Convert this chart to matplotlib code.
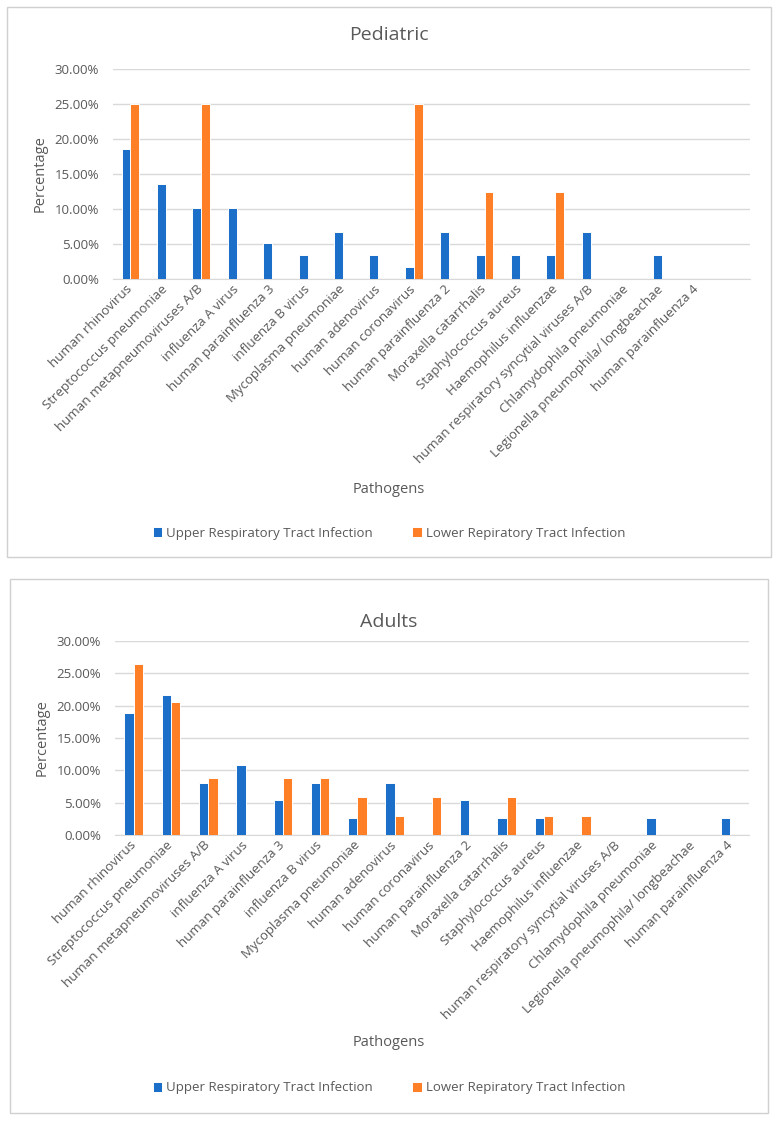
import matplotlib.pyplot as plt
import numpy as np
from matplotlib.patches import Rectangle
from matplotlib.ticker import PercentFormatter

plt.rcParams['font.family'] = ['Open Sans', 'DejaVu Sans']

pathogens = ['human rhinovirus', 'Streptococcus pneumoniae', 'human metapneumoviruses A/B',
             'influenza A virus', 'human parainfluenza 3', 'influenza B virus',
             'Mycoplasma pneumoniae', 'human adenovirus', 'human coronavirus',
             'human parainfluenza 2', 'Moraxella catarrhalis', 'Staphylococcus aureus',
             'Haemophilus influenzae', 'human respiratory syncytial viruses A/B',
             'Chlamydophila pneumoniae', 'Legionella pneumophila/ longbeachae',
             'human parainfluenza 4']

ped_upper = [18.64, 13.56, 10.17, 10.17, 5.08, 3.39, 6.78, 3.39, 1.69, 6.78, 3.39, 3.39, 3.39, 6.78, 0, 3.39, 0]
ped_lower = [25.0, 0, 25.0, 0, 0, 0, 0, 0, 25.0, 0, 12.5, 0, 12.5, 0, 0, 0, 0]
adult_upper = [18.92, 21.62, 8.11, 10.81, 5.41, 8.11, 2.70, 8.11, 0, 5.41, 2.70, 2.70, 0, 0, 2.70, 0, 2.70]
adult_lower = [26.47, 20.59, 8.82, 0, 8.82, 8.82, 5.88, 2.94, 5.88, 0, 5.88, 2.94, 2.94, 0, 0, 0, 0]

blue = '#1B6FC8'
orange = '#FF7F27'
grey = '#595959'

W, H = 781, 1124
fig = plt.figure(figsize=(W / 100, H / 100), dpi=100)


def px(x0, y0, x1, y1):
    # pixel box (top-left origin) -> figure fraction rect
    return [x0 / W, 1 - y1 / H, (x1 - x0) / W, (y1 - y0) / H]


def panel(box, plot, ncat, title, title_y, ylab_x, xlab_y, leg_y, upper, lower):
    r = px(*box)
    fig.patches.append(Rectangle((r[0], r[1]), r[2], r[3], transform=fig.transFigure,
                                 fill=False, edgecolor='#D0D0D0', linewidth=1))
    ax = fig.add_axes(px(*plot))
    x = np.arange(len(pathogens))
    w = 0.25
    ax.bar(x - w / 2, upper, w, color=blue, edgecolor='white', linewidth=0.7,
           label='Upper Respiratory Tract Infection', zorder=3)
    ax.bar(x + w / 2, lower, w, color=orange, edgecolor='white', linewidth=0.7,
           label='Lower Repiratory Tract Infection', zorder=3)
    ax.set_xlim(-0.5, ncat - 0.5)
    ax.set_ylim(0, 30)
    ax.set_yticks(np.arange(0, 31, 5))
    ax.yaxis.set_major_formatter(PercentFormatter(decimals=2))
    ax.grid(axis='y', color='#D9D9D9', linewidth=1, zorder=0)
    for s in ['top', 'right', 'left']:
        ax.spines[s].set_visible(False)
    ax.spines['bottom'].set_color('#D9D9D9')
    ax.tick_params(length=0, colors=grey, labelsize=9.5)
    ax.tick_params(axis='y', pad=10)
    ax.tick_params(axis='x', pad=6)
    ax.set_xticks(x)
    ax.set_xticklabels(pathogens, rotation=45, ha='right', va='center', rotation_mode='anchor')
    cx = (box[0] + box[2]) / 2
    fig.text(ylab_x / W, 1 - (plot[1] + plot[3]) / 2 / H, 'Percentage', rotation=90,
             ha='center', va='center', fontsize=10.5, color=grey)
    fig.text(cx / W, 1 - title_y / H, title, ha='center', va='center', fontsize=14, color=grey)
    fig.text(cx / W, 1 - xlab_y / H, 'Pathogens', ha='center', va='center',
             fontsize=10.5, color=grey)
    fig.legend(*ax.get_legend_handles_labels(), loc='center', ncol=2, frameon=False,
               bbox_to_anchor=(cx / W, 1 - leg_y / H), fontsize=9.5, labelcolor=grey,
               handlelength=0.7, handleheight=0.7, columnspacing=3, handletextpad=0.3)
    return ax


panel((7, 7, 771, 557), (112.8, 69, 750, 279), 18, 'Pediatric', 35, 40, 489, 533,
      ped_upper, ped_lower)
panel((10, 579, 768, 1113), (115, 641, 749, 835), 17, 'Adults', 622, 42, 1043, 1088,
      adult_upper, adult_lower)

fig.savefig('out.png', dpi=100)
